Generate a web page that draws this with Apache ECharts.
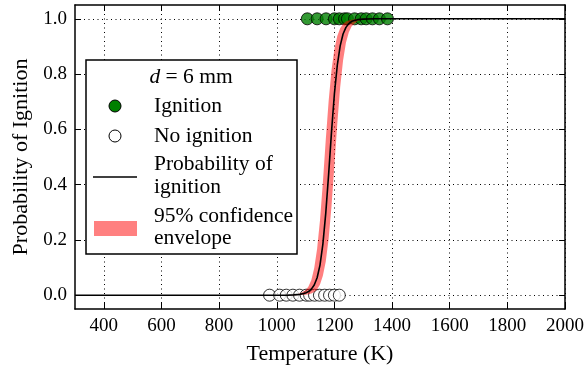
<!DOCTYPE html>
<html>
<head>
<meta charset="utf-8">
<script src="https://cdn.jsdelivr.net/npm/echarts@6/dist/echarts.min.js"></script>
<style>
html,body{margin:0;padding:0;background:#fff;}
#chart{width:587px;height:370px;}
</style>
</head>
<body>
<div id="chart"></div>
<script>
// ---- data ----
const xTicks = [400, 600, 800, 1000, 1200, 1400, 1600, 1800, 2000];
const yTicks = [0.0, 0.2, 0.4, 0.6, 0.8, 1.0];

const ignitionTemps = [1106, 1140, 1171, 1200, 1217, 1235, 1245, 1270, 1293, 1310, 1332, 1356, 1384];
const noIgnitionTemps = [975, 1010, 1033, 1056, 1079, 1102, 1114, 1131, 1148, 1166, 1183, 1200, 1217];

const curveTemps = [300, 1000, 1040, 1060, 1080, 1100, 1110, 1120, 1130, 1140, 1150, 1160, 1170, 1180, 1190, 1200, 1210, 1220, 1230, 1240, 1250, 1260, 1280, 1300, 1340, 2000];
const probIgnition = [0, 0, 0.0002, 0.001, 0.003, 0.008, 0.013, 0.022, 0.037, 0.063, 0.109, 0.185, 0.297, 0.438, 0.592, 0.729, 0.832, 0.902, 0.945, 0.969, 0.983, 0.991, 0.997, 0.999, 1, 1];
const ciUpper = [0, 0, 0.0006, 0.002, 0.006, 0.018, 0.031, 0.055, 0.098, 0.168, 0.271, 0.408, 0.562, 0.703, 0.815, 0.891, 0.938, 0.966, 0.981, 0.990, 0.994, 0.997, 0.999, 1, 1, 1];
const ciLower = [0, 0, 0, 0, 0.0005, 0.0018, 0.0034, 0.0063, 0.0116, 0.021, 0.039, 0.070, 0.122, 0.204, 0.323, 0.47, 0.62, 0.752, 0.849, 0.913, 0.951, 0.973, 0.992, 0.998, 1, 1];

const FONT = '"Liberation Serif", "Times New Roman", serif';
const FS = 19;
const LFS = 21.5;

const chart = echarts.init(document.getElementById('chart'), null, {renderer: 'canvas'});

const frameLine = {show: true, onZero: false, lineStyle: {color: '#000', width: 1.5}};
const gridDots = {show: true, lineStyle: {color: '#000', width: 1, type: [1, 3.5]}};

// band polygon: upper bound forward, lower bound backward (all through api.coord)
function renderBand(params, api) {
  if (params.dataIndex !== 0) return null;
  const pts = [];
  for (let i = 0; i < curveTemps.length; i++) pts.push(api.coord([curveTemps[i], ciUpper[i]]));
  for (let i = curveTemps.length - 1; i >= 0; i--) pts.push(api.coord([curveTemps[i], ciLower[i]]));
  return {
    type: 'polygon',
    shape: {points: pts},
    style: {fill: 'rgba(255,0,0,0.5)', stroke: 'none'}
  };
}

const txt = (x, y, s) => ({type: 'text', x: x, y: y, z: 101,
  style: {text: s, verticalAlign: 'middle', font: LFS + 'px ' + FONT, fill: '#000'}});

const option = {
  animation: false,
  backgroundColor: '#fff',
  grid: {left: 75, right: 21, top: 5, bottom: 59, containLabel: false},
  xAxis: [
    {
      type: 'value', min: 300, max: 2000, position: 'bottom',
      name: 'Temperature (K)', nameLocation: 'middle', nameGap: 34,
      nameTextStyle: {fontFamily: FONT, fontSize: 22, color: '#000'},
      axisLine: frameLine,
      axisTick: {show: true, inside: true, length: 6, customValues: xTicks, lineStyle: {color: '#000', width: 1}},
      axisLabel: {show: true, customValues: xTicks, margin: 8, fontFamily: FONT, fontSize: FS, color: '#000',
        formatter: v => String(v)},
      splitLine: gridDots
    },
    {
      type: 'value', min: 300, max: 2000, position: 'top',
      axisLine: frameLine,
      axisTick: {show: true, inside: true, length: 6, customValues: xTicks, lineStyle: {color: '#000', width: 1}},
      axisLabel: {show: false},
      splitLine: {show: false}
    }
  ],
  yAxis: [
    {
      type: 'value', min: -0.05, max: 1.05, position: 'left',
      name: 'Probability of Ignition', nameLocation: 'middle', nameGap: 42,
      nameTextStyle: {fontFamily: FONT, fontSize: 22, color: '#000'},
      axisLine: frameLine,
      axisTick: {show: true, inside: true, length: 6, customValues: yTicks, lineStyle: {color: '#000', width: 1}},
      axisLabel: {show: true, customValues: yTicks, margin: 8, fontFamily: FONT, fontSize: FS, color: '#000',
        formatter: v => v.toFixed(1)},
      splitLine: gridDots
    },
    {
      type: 'value', min: -0.05, max: 1.05, position: 'right',
      axisLine: frameLine,
      axisTick: {show: true, inside: true, length: 6, customValues: yTicks, lineStyle: {color: '#000', width: 1}},
      axisLabel: {show: false},
      splitLine: {show: false}
    }
  ],
  series: [
    {
      name: 'Ignition', type: 'scatter', xAxisIndex: 0, yAxisIndex: 0,
      data: ignitionTemps.map(t => [t, 1]),
      symbol: 'circle', symbolSize: 12,
      itemStyle: {color: '#008000', borderColor: '#000', borderWidth: 1},
      z: 2
    },
    {
      name: 'No ignition', type: 'scatter', xAxisIndex: 0, yAxisIndex: 0,
      data: noIgnitionTemps.map(t => [t, 0]),
      symbol: 'circle', symbolSize: 12,
      itemStyle: {color: '#fff', borderColor: '#000', borderWidth: 1},
      z: 2
    },
    {
      name: '95% confidence envelope', type: 'custom', xAxisIndex: 0, yAxisIndex: 0,
      renderItem: renderBand,
      data: [[curveTemps[0], ciLower[0]]],
      silent: true, clip: true, z: 3
    },
    {
      name: 'Probability of ignition', type: 'line', xAxisIndex: 0, yAxisIndex: 0,
      data: curveTemps.map((t, i) => [t, probIgnition[i]]),
      symbol: 'none', lineStyle: {color: '#000', width: 1.6}, z: 4
    }
  ],
  graphic: [
    {type: 'rect', shape: {x: 86, y: 60, width: 211, height: 194}, style: {fill: '#fff', stroke: '#000', lineWidth: 1.5}, z: 100},
    {type: 'text', x: 191, y: 77, z: 101, style: {
      text: '{i|d} = 6 mm', align: 'center', verticalAlign: 'middle',
      font: LFS + 'px ' + FONT, fill: '#000',
      rich: {i: {fontStyle: 'italic', fontFamily: FONT, fontSize: LFS}}
    }},
    {type: 'circle', shape: {cx: 115, cy: 106, r: 6}, style: {fill: '#008000', stroke: '#000', lineWidth: 1}, z: 101},
    txt(154, 106, 'Ignition'),
    {type: 'circle', shape: {cx: 115, cy: 136, r: 6}, style: {fill: '#fff', stroke: '#000', lineWidth: 1}, z: 101},
    txt(154, 136, 'No ignition'),
    {type: 'line', shape: {x1: 93, y1: 177, x2: 137, y2: 177}, style: {stroke: '#000', lineWidth: 1.6}, z: 101},
    txt(154, 164, 'Probability of'),
    txt(154, 187, 'ignition'),
    {type: 'rect', shape: {x: 94, y: 221, width: 43, height: 15}, style: {fill: '#ff8080'}, z: 101},
    txt(154, 216, '95% confidence'),
    txt(154, 238, 'envelope')
  ]
};
chart.setOption(option);
</script>
</body>
</html>
